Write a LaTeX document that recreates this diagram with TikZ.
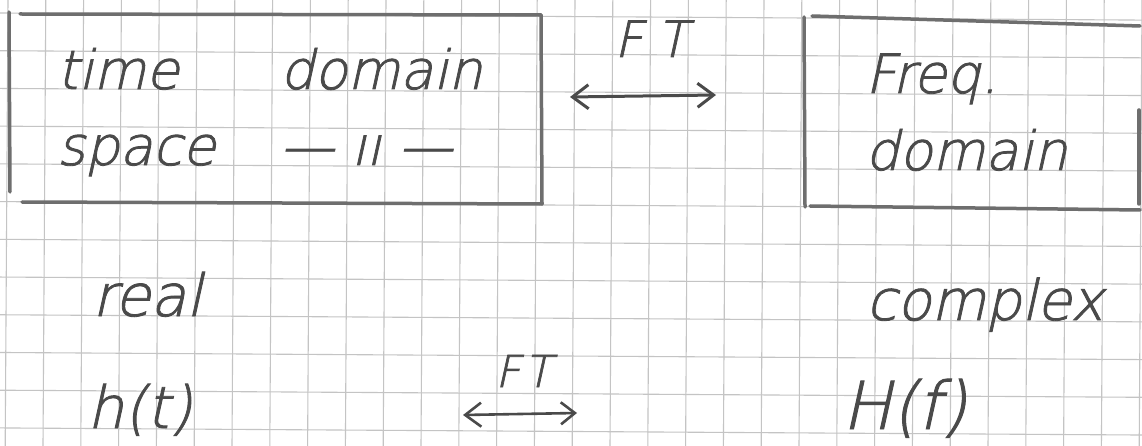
\documentclass[tikz,border=0pt]{standalone}
\usepackage{fontspec}
\newfontfamily\hand{DejaVu Sans ExtraLight}[FakeSlant=0.22,FakeBold=1.5]
\usetikzlibrary{arrows.meta}
\definecolor{pen}{HTML}{4A4A4A}
\definecolor{boxpen}{HTML}{6E6E6E}
\definecolor{gridc}{HTML}{C4C4C4}
\begin{document}
\begin{tikzpicture}[x=1pt,y=-1pt,
  gridline/.style={gridc, line width=1.1pt},
  boxline/.style={boxpen, line width=3.5pt, line cap=round},
  hw/.style={inner sep=0pt, anchor=base west, text=pen},
  ftarrow/.style={pen, line width=3pt, {Straight Barb[length=16pt,width=24pt]}-{Straight Barb[length=16pt,width=24pt]}},
  ftarrowsmall/.style={pen, line width=2.6pt, {Straight Barb[length=16pt,width=24pt]}-{Straight Barb[length=14pt,width=22pt]}},
]
\useasboundingbox (0,0) rectangle (1142,446);
\fill[white] (0,0) rectangle (1142,446);
\begin{scope}
  \clip (0,0) rectangle (1142,446);
  \foreach \k in {0,...,11} \draw[gridline] (0,{13+37.72*\k}) -- (1142,{20.1+37.72*\k});
  \foreach \k in {0,...,30} \draw[gridline] ({8+37.8*\k},0) -- ({5.2+37.8*\k},446);
\end{scope}

% left box (time / space domain)
\coordinate (lb-nw) at (20,14);
\coordinate (lb-ne) at (541,15);
\coordinate (lb-se) at (542,204);
\coordinate (lb-sw) at (22,202);
\draw[boxline] (lb-nw) -- (lb-ne);
\draw[boxline] (9,12) -- (10,192);
\draw[boxline] (lb-ne) -- (lb-se);
\draw[boxline] (lb-sw) -- (lb-se);
\node[hw, font=\hand\fontsize{54}{76}\selectfont] (tdtext) at (57,89)
  {\begin{tabular}[t]{@{}l@{}l@{}}\makebox[223pt][l]{time} & domain\\ space & — ıı —\end{tabular}};

% right box (frequency domain)
\coordinate (rb-nw) at (804,17);
\coordinate (rb-ne) at (1140,26);
\coordinate (rb-sw) at (805,207);
\coordinate (rb-se) at (1140,210);
\draw[boxline] (812,16) -- (rb-ne);
\draw[boxline] (rb-nw) -- (rb-sw);
\draw[boxline] (1139,110) -- (1139,204);
\draw[boxline] (810,206) -- (rb-se);
\node[hw, font=\hand\fontsize{54}{77}\selectfont] (fdtext) at (865,93)
  {\begin{tabular}[t]{@{}l@{}}Freq.\\domain\end{tabular}};

% upper FT arrow
\coordinate (ua1) at (570,97);
\coordinate (ua2) at (716,95);
\draw[ftarrow] (ua1) -- (ua2);
\node[hw, font=\hand\fontsize{50}{50}\selectfont] (ft1) at (614,57) {F\kern14pt T};

% lower labels
\node[hw, font=\hand\fontsize{58}{58}\selectfont] (real) at (92,316) {real};
\node[hw, font=\hand\fontsize{56}{56}\selectfont] (complex) at (866,320) {complex};
\node[hw, font=\hand\fontsize{58}{58}\selectfont] (ht) at (87,428) {h(t)};
\node[hw, font=\hand\fontsize{66}{66}\selectfont] (Hf) at (842,429) {H(f)};

% lower FT arrow
\coordinate (la1) at (463,415);
\coordinate (la2) at (577,413);
\draw[ftarrowsmall] (la1) -- (la2);
\node[hw, font=\hand\fontsize{44}{44}\selectfont] (ft2) at (495,387) {F\kern4pt T};
\end{tikzpicture}
\end{document}
